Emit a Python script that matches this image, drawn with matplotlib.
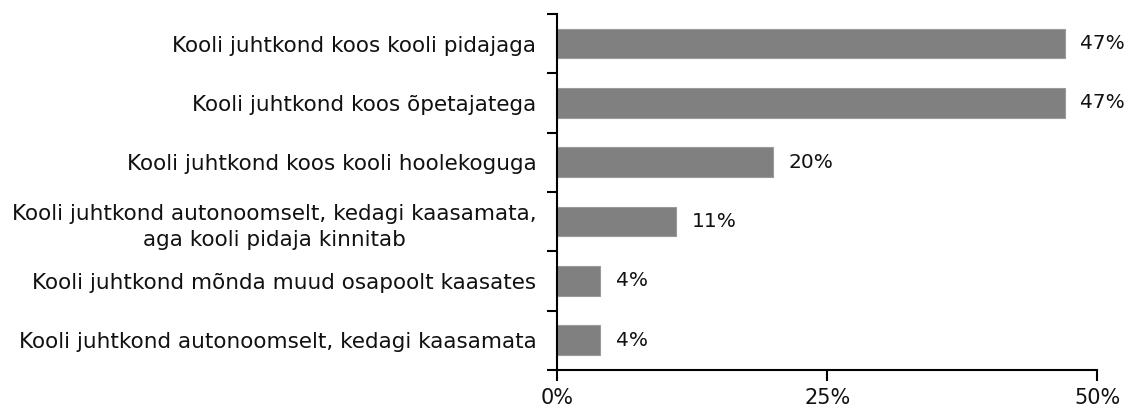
import matplotlib.pyplot as plt
from matplotlib.ticker import FixedLocator

categories = [
    "Kooli juhtkond koos kooli pidajaga",
    "Kooli juhtkond koos õpetajatega",
    "Kooli juhtkond koos kooli hoolekoguga",
    "Kooli juhtkond autonoomselt, kedagi kaasamata,\naga kooli pidaja kinnitab",
    "Kooli juhtkond mõnda muud osapoolt kaasates",
    "Kooli juhtkond autonoomselt, kedagi kaasamata",
]
values = [47, 47, 20, 11, 4, 4]
xticks = [0, 25, 50]

plt.rcParams['font.family'] = ['DejaVu Sans']

fig = plt.figure(figsize=(11.30, 4.09), dpi=100)
ax = fig.add_axes([0.493, 0.0954, 0.478, 0.8704])

pos = list(range(len(categories)))
ax.barh(pos, values, height=0.5, color="#808080", edgecolor="#9a9a9a", linewidth=0.8)
for p, v in zip(pos, values):
    ax.text(v + 1.45, p, f"{v}%", va="center", ha="left", fontsize=14.5, color="#111111")

ax.set_ylim(len(categories) - 0.5, -0.5)
ax.set_xlim(0, 50)
ax.set_yticks(pos)
ax.set_yticklabels(categories, fontsize=15.5, ha="right", multialignment="center",
                   linespacing=1.4, color="#111111")
ax.yaxis.set_minor_locator(FixedLocator([i - 0.5 for i in range(len(categories) + 1)]))
ax.tick_params(axis="y", which="major", length=0, pad=15)
ax.tick_params(axis="y", which="minor", length=7, width=1.5, direction="out")

ax.set_xticks(xticks)
ax.set_xticklabels([f"{t}%" for t in xticks], fontsize=15, color="#111111")
ax.tick_params(axis="x", length=8, width=1.5, direction="out", pad=5)

for s in ["top", "right"]:
    ax.spines[s].set_visible(False)
for s in ["left", "bottom"]:
    ax.spines[s].set_linewidth(1.5)

fig.savefig("out.png", dpi=100)
